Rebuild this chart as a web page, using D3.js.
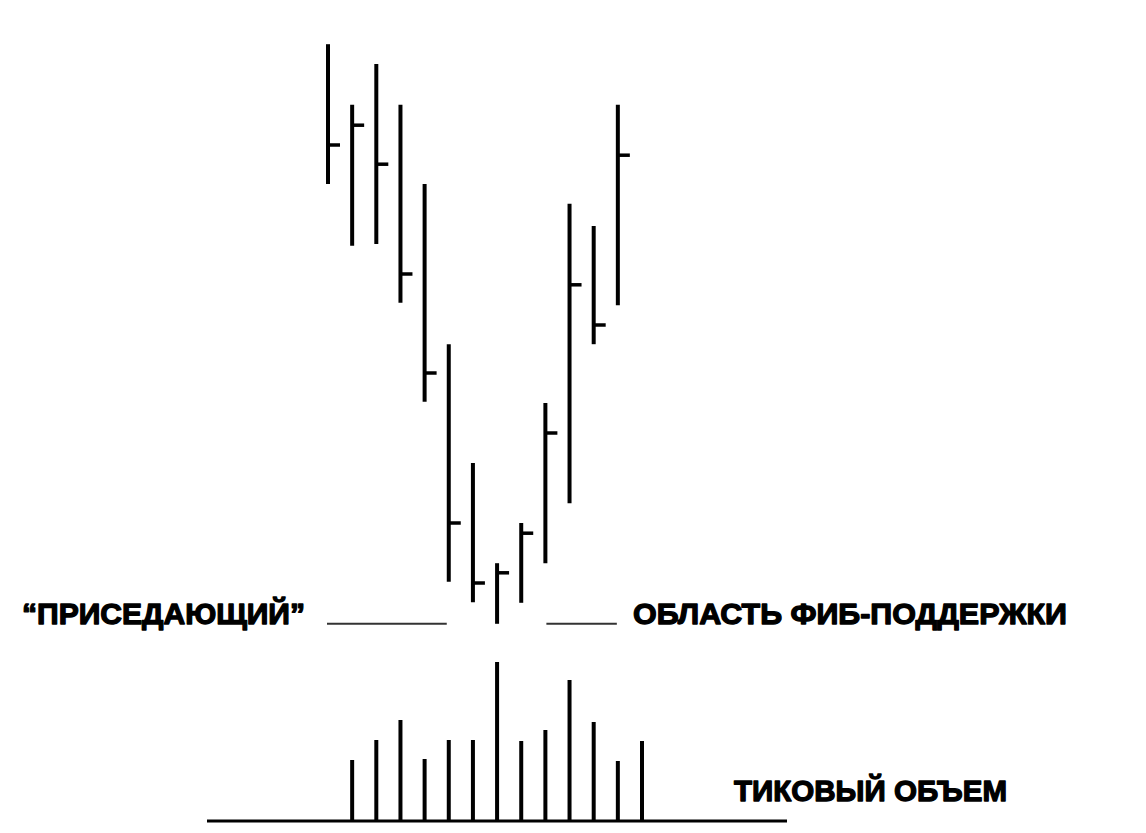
<!DOCTYPE html>
<html>
<head>
<meta charset="utf-8">
<script src="https://cdn.jsdelivr.net/npm/d3@7"></script>
<style>
  html, body { margin: 0; padding: 0; background: #ffffff; }
  svg { display: block; }
</style>
</head>
<body>
<svg id="chart" width="1146" height="833"></svg>
<script>
// ---- Data ----
// Price bars occupy slots 0..12, tick volume bars occupy slots 1..13
const priceSlots = [0, 1, 2, 3, 4, 5, 6, 7, 8, 9, 10, 11, 12];
const highs  = [99.3, 89.2, 96.0, 89.2, 76.0, 49.3, 29.5, 12.8, 19.5, 39.5, 72.7, 69.0, 89.2];
const lows   = [76.0, 65.7, 66.0, 56.2, 39.7,  9.7,  6.3,  2.7,  6.2, 12.8, 22.8, 49.3, 55.8];
const closes = [82.5, 85.8, 79.3, 61.0, 44.5, 19.5,  9.5, 11.2, 17.8, 34.5, 59.2, 52.5, 80.8];

const volumeSlots = [1, 2, 3, 4, 5, 6, 7, 8, 9, 10, 11, 12, 13];
const volumes = [60, 80, 100, 61, 80, 80, 158, 79, 90, 140, 98, 59, 79];

const fibLevel = 2.7; // Fibonacci support level (matches the lowest low)

const labelSquat = "\u201CПРИСЕДАЮЩИЙ\u201D";
const labelFib = "ОБЛАСТЬ ФИБ-ПОДДЕРЖКИ";
const labelVolume = "ТИКОВЫЙ ОБЪЕМ";

// ---- Scales ----
const svg = d3.select("#chart");
const x = d3.scaleLinear().domain([0, 13]).range([328, 642]);
const yPrice = d3.scaleLinear().domain([0, 100]).range([640, 40]);
const yVol = d3.scaleLinear().domain([0, 160]).range([820, 660]);

const bars = priceSlots.map((s, i) => ({ s, h: highs[i], l: lows[i], c: closes[i] }));
const vols = volumeSlots.map((s, i) => ({ s, v: volumes[i] }));

// ---- Price bars (high-low with close tick) ----
const g = svg.append("g");
g.selectAll("line.hl").data(bars).join("line")
  .attr("class", "hl")
  .attr("x1", d => x(d.s)).attr("x2", d => x(d.s))
  .attr("y1", d => yPrice(d.h)).attr("y2", d => yPrice(d.l))
  .attr("stroke", "#000").attr("stroke-width", 4);

g.selectAll("line.close").data(bars).join("line")
  .attr("class", "close")
  .attr("x1", d => x(d.s)).attr("x2", d => x(d.s) + 12)
  .attr("y1", d => yPrice(d.c)).attr("y2", d => yPrice(d.c))
  .attr("stroke", "#000").attr("stroke-width", 3.5);

// ---- Fib support segments ----
const fibY = yPrice(fibLevel);
svg.append("line")
  .attr("x1", x(0) - 1).attr("x2", x(5) - 2)
  .attr("y1", fibY).attr("y2", fibY)
  .attr("stroke", "#333").attr("stroke-width", 2);
svg.append("line")
  .attr("x1", x(9) + 1).attr("x2", x(12) - 1)
  .attr("y1", fibY).attr("y2", fibY)
  .attr("stroke", "#333").attr("stroke-width", 2);

// ---- Tick volume ----
svg.append("line")
  .attr("x1", 207).attr("x2", 787)
  .attr("y1", yVol(0) + 1).attr("y2", yVol(0) + 1)
  .attr("stroke", "#000").attr("stroke-width", 3);

svg.selectAll("line.vol").data(vols).join("line")
  .attr("class", "vol")
  .attr("x1", d => x(d.s)).attr("x2", d => x(d.s))
  .attr("y1", d => yVol(d.v)).attr("y2", yVol(0))
  .attr("stroke", "#000").attr("stroke-width", 4);

// ---- Labels ----
function label(txt, xx, yy, len) {
  svg.append("text")
    .attr("x", xx).attr("y", yy)
    .attr("font-family", "'Liberation Sans', Arial, sans-serif")
    .attr("font-weight", "bold")
    .attr("font-size", 30)
    .attr("fill", "#000")
    .attr("stroke", "#000").attr("stroke-width", 1.3)
    .attr("stroke-linejoin", "round")
    .attr("textLength", len)
    .attr("lengthAdjust", "spacingAndGlyphs")
    .text(txt);
}
label(labelSquat, 22, 624, 283);
label(labelFib, 633, 624, 434);
label(labelVolume, 734, 801, 273);
</script>
</body>
</html>
